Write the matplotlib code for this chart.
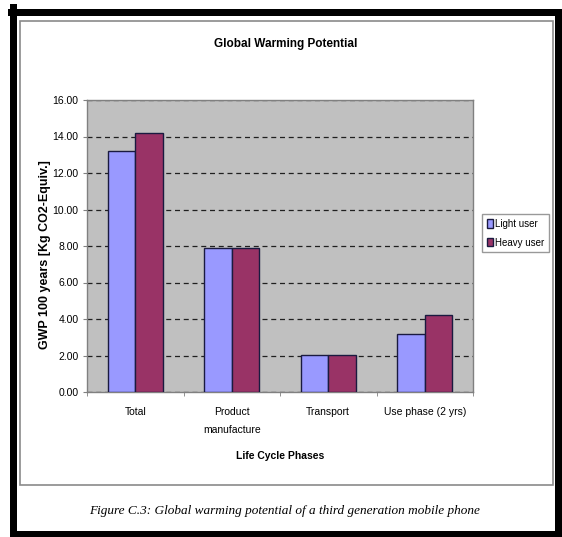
import numpy as np
import matplotlib.pyplot as plt
from matplotlib.patches import Rectangle, Patch

# GWP per life cycle phase, kg CO2-equiv.
phases = ['Total', 'Product\nmanufacture', 'Transport', 'Use phase (2 yrs)']
light_user = [13.2, 7.9, 2.05, 3.2]
heavy_user = [14.2, 7.9, 2.05, 4.2]
series_names = ['Light user', 'Heavy user']
yticks = np.arange(0, 17, 2)

W, H = 562, 537
fig = plt.figure(figsize=(W / 100, H / 100), dpi=100)
fig.patch.set_facecolor('white')
plt.rcParams['font.family'] = ['Liberation Sans', 'DejaVu Sans']


def box(x0, y0, x1, y1):
    # pixel box (top-left origin) -> figure fraction
    return x0 / W, 1 - y1 / H, (x1 - x0) / W, (y1 - y0) / H


# thick black page frame
for x0, y0, x1, y1 in [(8, 9, 562, 16), (10, 4, 17, 537),
                       (555, 9, 562, 537), (10, 531, 562, 537)]:
    l, b, w, h = box(x0, y0, x1, y1)
    fig.add_artist(Rectangle((l, b), w, h, transform=fig.transFigure,
                             facecolor='black', edgecolor='none', zorder=5))

# thin chart-area frame
l, b, w, h = box(19.5, 21, 553, 484.5)
fig.add_artist(Rectangle((l, b), w, h, transform=fig.transFigure,
                         facecolor='none', edgecolor='#8a8a8a', lw=1.2, zorder=4))

ax = fig.add_axes(box(87, 100, 473, 392))
ax.set_facecolor('#c0c0c0')

x = np.arange(len(phases))
bw = 1 / 3.5
ax.bar(x - bw / 2, light_user, bw, color='#9999ff', edgecolor='#1a1a40', lw=1, zorder=3)
ax.bar(x + bw / 2, heavy_user, bw, color='#993366', edgecolor='#1a1a40', lw=1, zorder=3)

ax.set_xlim(-0.5, len(phases) - 0.5)
ax.set_ylim(0, 16)
ax.set_yticks(yticks)
ax.set_yticklabels([f'{v:.2f}' for v in yticks], fontsize=7.5)
ax.yaxis.grid(True, color='#202020', linestyle=(0, (4, 3)), lw=0.9, zorder=1)
ax.set_axisbelow(True)

ax.set_xticks(x)
ax.set_xticklabels(phases, fontsize=7.5, linespacing=2.0, va='top')
ax.set_xticks(np.arange(-0.5, len(phases)), minor=True)
ax.tick_params(axis='x', which='major', length=0, pad=11)
ax.tick_params(axis='x', which='minor', length=3, color='#808080')
ax.tick_params(axis='y', length=3, color='#808080', pad=3)
for s in ax.spines.values():
    s.set_color('#808080')
    s.set_linewidth(1)

fig.text(286 / W, 1 - 44 / H, 'Global Warming Potential', ha='center', va='center',
         fontsize=8.5, fontweight='bold')
fig.text(45 / W, 1 - 255 / H, 'GWP 100 years [Kg CO2-Equiv.]', ha='center', va='center',
         rotation=90, fontsize=9, fontweight='bold')
fig.text(280 / W, 1 - 456 / H, 'Life Cycle Phases', ha='center', va='center',
         fontsize=7.5, fontweight='bold')

handles = [Patch(facecolor='#9999ff', edgecolor='#1a1a40'),
           Patch(facecolor='#993366', edgecolor='#1a1a40')]
leg = fig.legend(handles, series_names, loc='upper left',
                 bbox_to_anchor=(482 / W, 1 - 214 / H), borderaxespad=0,
                 fontsize=7, frameon=True, fancybox=False, handlelength=0.6,
                 handleheight=0.9, handletextpad=0.2, labelspacing=0.9,
                 borderpad=0.5)
leg.get_frame().set_edgecolor('#808080')
leg.get_frame().set_linewidth(1)

fig.text(285 / W, 1 - 511 / H,
         'Figure C.3: Global warming potential of a third generation mobile phone',
         ha='center', va='center', fontsize=9.5, style='italic',
         family=['Liberation Serif', 'DejaVu Serif'])

fig.savefig('out.png', dpi=100)
